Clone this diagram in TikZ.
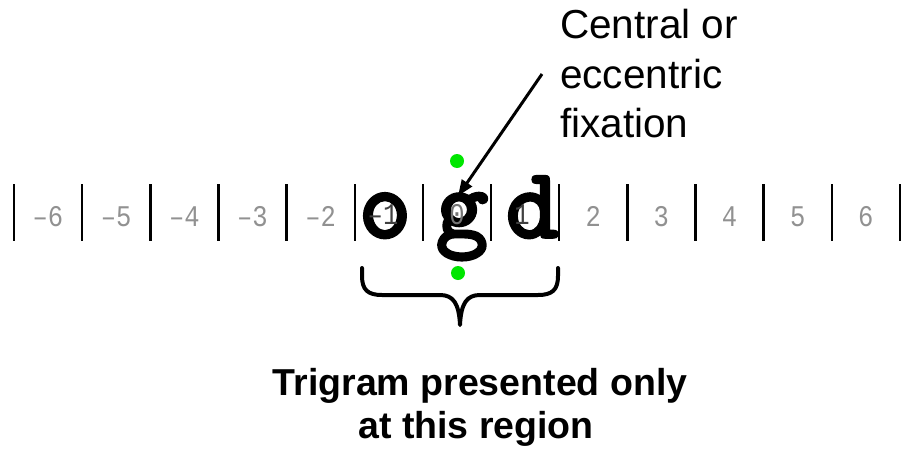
\documentclass[tikz,border=0pt]{standalone}
\usepackage{fontspec}
\setmainfont{Liberation Sans}
\newfontfamily\monofont{Liberation Mono}[FakeStretch=0.85]
\newfontfamily\slabfont{lmmonolt10-bold.otf}[FakeBold=1.6]
\usetikzlibrary{arrows.meta}
\definecolor{dotgreen}{RGB}{0,230,0}
\definecolor{numgray}{RGB}{145,145,145}
\begin{document}
\begin{tikzpicture}[x=1pt,y=-1pt,
  tickline/.style={line width=2.4pt, black},
  numlabel/.style={font=\monofont\fontsize{30}{30}\selectfont, text=numgray, inner sep=0pt, anchor=base},
  innernum/.style={numlabel, text=black!75},
  bigletter/.style={font=\slabfont\fontsize{102}{102}\selectfont, inner sep=0pt, anchor=base},
  greendot/.style={circle, fill=dotgreen, minimum size=14pt, inner sep=0pt},
  calltext/.style={font=\fontsize{40.5}{40.5}\selectfont, inner sep=0pt, anchor=base west},
  captext/.style={font=\bfseries\fontsize{37.5}{37.5}\selectfont, inner sep=0pt, anchor=base},
  bracepath/.style={line width=4pt, line cap=round, line join=round},
  arrowline/.style={line width=3pt, -{Triangle[length=16pt,width=12pt]}}]
\useasboundingbox (0,0) rectangle (901,450);
% tick bars
\foreach \k in {0,...,13} {
  \draw[tickline] ({14+68.15*\k},184) -- ({14+68.15*\k},241);
}
% letters of the trigram
\node[bigletter] (lo) at (385,238) {o};
\node[bigletter] (lg) at (462,238) {g};
\node[bigletter] (ld) at (532,238) {d};
% position labels
\foreach \n/\lab [count=\k from 0] in {m6/–6,m5/–5,m4/–4,m3/–3,m2/–2} {
  \node[numlabel] (n\n) at ({48+68.15*\k},226) {\lab};
}
\node[innernum] (nm1) at (383,224) {–1};
\node[innernum, text=numgray!80!black] (n0) at (457,224) {0};
\node[innernum] (n1) at (522,224) {1};
\foreach \n/\lab [count=\k from 8] in {p2/2,p3/3,p4/4,p5/5,p6/6} {
  \node[numlabel] (n\n) at ({48+68.15*\k},226) {\lab};
}
% fixation dots
\node[greendot] (dottop) at (457,161) {};
\node[greendot] (dotbot) at (458,273) {};
% callout
\node[calltext] (c1) at (560,38) {Central or};
\node[calltext] (c2) at (560,88) {eccentric};
\node[calltext] (c3) at (560,137) {fixation};
\coordinate (arrowstart) at (542,74);
\coordinate (arrowtip) at (458,196);
\draw[arrowline] (arrowstart) -- (arrowtip);
% brace
\draw[bracepath] (362,268) -- (362,276)
  .. controls (362,290) and (368,295) .. (382,295) -- (440,295)
  .. controls (453,295) and (459,303) .. (460,325)
  .. controls (461,303) and (467,295) .. (480,295) -- (538,295)
  .. controls (552,295) and (558,290) .. (558,276) -- (558,268);
% caption
\node[captext] (cap1) at (480,395) {Trigram presented only};
\node[captext] (cap2) at (476,438) {at this region};
\end{tikzpicture}
\end{document}
